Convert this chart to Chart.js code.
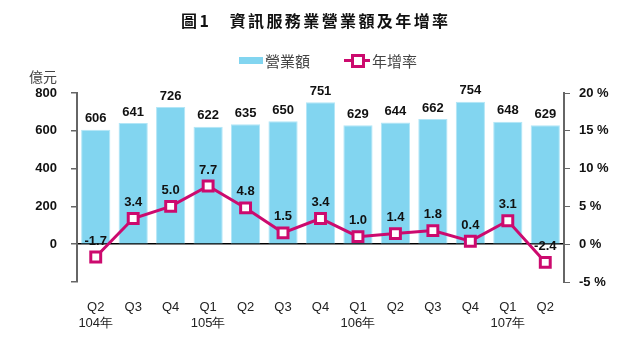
<!DOCTYPE html>
<html>
<head>
<meta charset="utf-8">
<script src="https://cdn.jsdelivr.net/npm/chart.js@4/dist/chart.umd.min.js"></script>
<style>
  html, body { margin: 0; padding: 0; background: #fff; }
  #wrap { position: relative; width: 628px; height: 351px; overflow: hidden; }
  #c { position: absolute; left: 0; top: 0; }
  .title {
    position: absolute; left: 181px; top: 8px; white-space: nowrap;
    font-family: "Noto Sans CJK TC", sans-serif; font-weight: bold; font-size: 16px;
    letter-spacing: 2.4px; color: #111;
  }
  .unit {
    position: absolute; left: 29px; top: 66px;
    font-family: "Noto Sans CJK TC", sans-serif; font-size: 14px; color: #444;
  }
  .legend {
    position: absolute; top: 50px; left: 239px; height: 20px;
    font-family: "Noto Sans CJK TC", sans-serif; font-size: 15px; color: #444;
  }
  .legend .item { position: absolute; top: 0; white-space: nowrap; }
  .legend .box { position: absolute; left: 0; top: 7px; width: 24px; height: 7px; background: #82d5f0; }
  .legend .ln { position: absolute; left: 105px; top: 9px; width: 26px; height: 3px; background: #cc0a6e; }
  .legend .sq { position: absolute; left: 112px; top: 4px; width: 8px; height: 8px; border: 3px solid #cc0a6e; background: #fff; }
</style>
</head>
<body>
<div id="wrap">
  <canvas id="c" width="628" height="351"></canvas>
  <div class="title">圖1　資訊服務業營業額及年增率</div>
  <div class="unit">億元</div>
  <div class="legend">
    <div class="box"></div><span class="item" style="left:26px">營業額</span>
    <div class="ln"></div><div class="sq"></div><span class="item" style="left:133px">年增率</span>
  </div>
</div>
<script>
// 資料
const quarters = ['Q2', 'Q3', 'Q4', 'Q1', 'Q2', 'Q3', 'Q4', 'Q1', 'Q2', 'Q3', 'Q4', 'Q1', 'Q2'];
const years = ['104年', '', '', '105年', '', '', '', '106年', '', '', '', '107年', ''];
const revenue = [606, 641, 726, 622, 635, 650, 751, 629, 644, 662, 754, 648, 629];
const growth = [-1.7, 3.4, 5.0, 7.7, 4.8, 1.5, 3.4, 1.0, 1.4, 1.8, 0.4, 3.1, -2.4];

const labels = quarters.map((q, i) => [q, years[i]]);

// 數值標籤
const valueLabels = {
    id: 'valueLabels',
    afterDatasetsDraw(chart) {
        const ctx = chart.ctx;
        ctx.save();
        ctx.font = 'bold 13px "Liberation Sans", Arial, sans-serif';
        ctx.fillStyle = '#111';
        ctx.textAlign = 'center';
        ctx.textBaseline = 'middle';
        chart.getDatasetMeta(1).data.forEach((bar, i) => {
            ctx.fillText(String(revenue[i]), bar.x, bar.y - 11);
        });
        chart.getDatasetMeta(0).data.forEach((pt, i) => {
            ctx.fillText(growth[i].toFixed(1), pt.x, pt.y - 16);
        });
        ctx.restore();
    }
};

const tickFont = { family: '"Liberation Sans", Arial, sans-serif', size: 13, weight: 'bold' };

new Chart(document.getElementById('c'), {
    type: 'bar',
    data: {
        labels: labels,
        datasets: [{
            type: 'line',
            label: '年增率',
            data: growth,
            yAxisID: 'y1',
            borderColor: '#cc0a6e',
            borderWidth: 3,
            pointStyle: 'rect',
            pointRadius: 7,
            pointBorderWidth: 3,
            pointBackgroundColor: '#fff',
            pointBorderColor: '#cc0a6e',
            order: 0
        }, {
            label: '營業額',
            data: revenue,
            yAxisID: 'y',
            backgroundColor: '#82d5f0',
            borderColor: '#b2e6f7',
            borderWidth: 1,
            barPercentage: 0.78,
            categoryPercentage: 1,
            order: 1
        }]
    },
    plugins: [valueLabels],
    options: {
        responsive: false,
        animation: false,
        layout: { padding: { top: 93, left: 0, right: 0, bottom: 0 } },
        plugins: { legend: { display: false }, tooltip: { enabled: false } },
        scales: {
            x: {
                grid: { display: false },
                border: { display: false },
                ticks: {
                    maxRotation: 0, autoSkip: false, padding: 10,
                    color: '#222',
                    font: { family: '"Liberation Sans", Arial, sans-serif', size: 13 }
                },
                afterFit(scale) { scale.height = 69; }
            },
            y: {
                position: 'left',
                min: -200, max: 800,
                ticks: {
                    stepSize: 200, padding: 14, color: '#111', font: tickFont,
                    callback: v => v < 0 ? '' : v
                },
                grid: {
                    color: c => c.tick && c.tick.value === 0 ? '#000' : 'rgba(0,0,0,0)',
                    lineWidth: 1.5,
                    tickColor: '#666',
                    tickLength: 6
                },
                border: { display: true, color: '#666', width: 2 },
                afterFit(scale) { scale.width = 77; }
            },
            y1: {
                position: 'right',
                min: -5, max: 20,
                ticks: {
                    stepSize: 5, padding: 9, color: '#111', font: tickFont,
                    callback: v => v + ' %'
                },
                grid: { drawOnChartArea: false, tickColor: '#666', tickLength: 6 },
                border: { display: true, color: '#666', width: 2 },
                afterFit(scale) { scale.width = 64; }
            }
        }
    }
});
</script>
</body>
</html>
